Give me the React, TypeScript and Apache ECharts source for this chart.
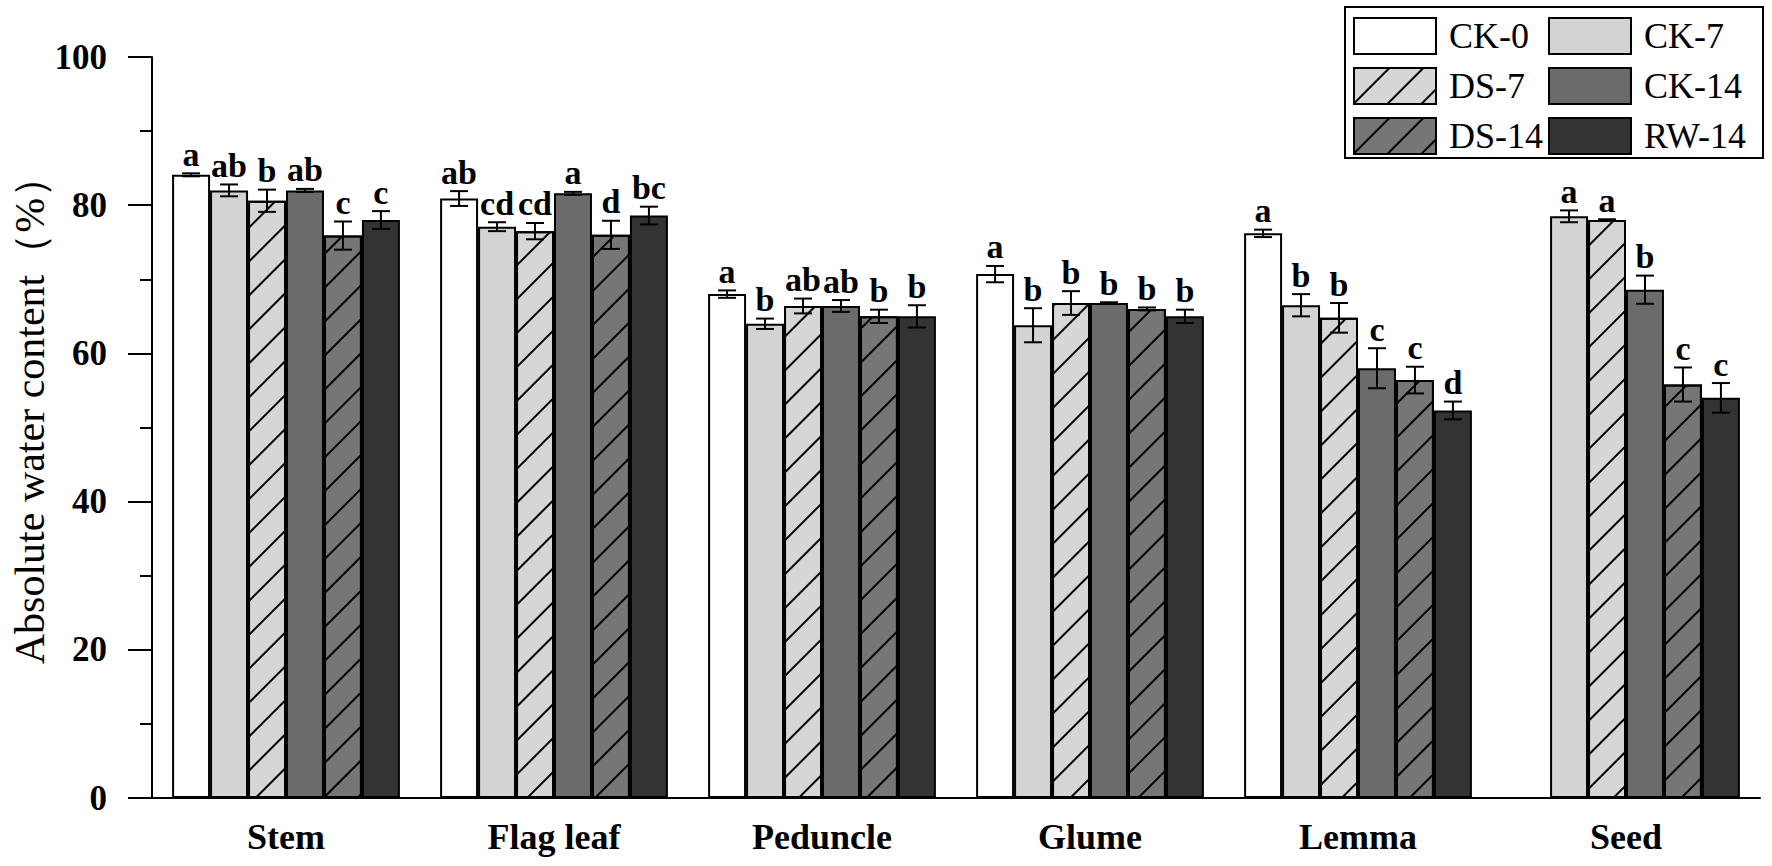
import React, { useEffect, useRef } from "react";
import * as echarts from "echarts";

const categories = ["Stem", "Flag leaf", "Peduncle", "Glume", "Lemma", "Seed"];
const treatments = ["CK-0", "CK-7", "DS-7", "CK-14", "DS-14", "RW-14"];

const ck0 = [84.1, 80.9, 68.0, 70.7, 76.2, null];
const ck0Err = [0.2, 1.0, 0.5, 1.1, 0.5, 0];
const ck7 = [82.0, 77.1, 64.0, 63.8, 66.5, 78.5];
const ck7Err = [0.8, 0.6, 0.7, 2.3, 1.5, 0.8];
const ds7 = [80.6, 76.5, 66.4, 66.8, 64.8, 78.0];
const ds7Err = [1.5, 1.1, 1.0, 1.6, 2.0, 0.1];
const ck14 = [82.0, 81.6, 66.4, 66.8, 58.0, 68.6];
const ck14Err = [0.2, 0.2, 0.8, 0.1, 2.7, 1.9];
const ds14 = [75.9, 76.0, 65.0, 66.0, 56.4, 55.8];
const ds14Err = [1.9, 1.9, 0.9, 0.2, 1.8, 2.3];
const rw14 = [78.0, 78.6, 65.0, 65.0, 52.3, 54.0];
const rw14Err = [1.2, 1.2, 1.5, 0.9, 1.2, 2.0];

const ck0Sig = ["a", "ab", "a", "a", "a", ""];
const ck7Sig = ["ab", "cd", "b", "b", "b", "a"];
const ds7Sig = ["b", "cd", "ab", "b", "b", "a"];
const ck14Sig = ["ab", "a", "ab", "b", "c", "b"];
const ds14Sig = ["c", "d", "b", "b", "c", "c"];
const rw14Sig = ["c", "bc", "b", "b", "d", "c"];

const yTicks = [0, 20, 40, 60, 80, 100];
const yName = "Absolute water content（%）";

const values = [ck0, ck7, ds7, ck14, ds14, rw14];
const errors = [ck0Err, ck7Err, ds7Err, ck14Err, ds14Err, rw14Err];
const sigs = [ck0Sig, ck7Sig, ds7Sig, ck14Sig, ds14Sig, rw14Sig];

const fills = ["#ffffff", "#d3d3d3", "#d6d6d6", "#6b6b6b", "#767676", "#333333"];
const hatched = [false, false, true, false, true, false];

const FONT = "Liberation Serif";
const CAT_GAP = 0.15;

export default function App() {
  const ref = useRef<HTMLDivElement>(null);

  useEffect(() => {
    if (!ref.current) return;
    const chart = echarts.init(ref.current, undefined, { renderer: "svg" });

    const decal = {
      symbol: "rect",
      symbolSize: 1,
      color: "#000",
      dashArrayX: [1, 0],
      dashArrayY: [2, 22],
      rotation: -Math.PI / 4,
    };

    const barSeries = treatments.map((name, i) => ({
      type: "bar",
      name,
      data: values[i].map((v) => (v === null ? "-" : v)),
      barGap: "0%",
      barCategoryGap: `${CAT_GAP * 100}%`,
      itemStyle: {
        color: fills[i],
        borderColor: "#000",
        borderWidth: 2,
        ...(hatched[i] ? { decal } : {}),
      },
      z: 2,
    }));

    const rows: number[][] = [];
    values.forEach((arr, s) => {
      arr.forEach((v, c) => {
        if (v !== null) rows.push([c, v as number, errors[s][c], s]);
      });
    });

    const errSeries = {
      type: "custom",
      name: "errors",
      data: rows,
      encode: { x: 0, y: 1 },
      z: 5,
      silent: true,
      renderItem: (params: any, api: any) => {
        const c = api.value(0);
        const v = api.value(1);
        const e = api.value(2);
        const s = api.value(3);
        const center = api.coord([c, v]);
        const band = api.size([1, 0])[0];
        const bw = (band * (1 - CAT_GAP)) / 6;
        const x = center[0] + (s - 2.5) * bw;
        const yTop = api.coord([c, v + e])[1];
        const yBot = api.coord([c, v - e])[1];
        const cap = 9;
        const ls = { stroke: "#000", lineWidth: 2 };
        return {
          type: "group",
          children: [
            { type: "line", shape: { x1: x, y1: yTop, x2: x, y2: yBot }, style: ls },
            { type: "line", shape: { x1: x - cap, y1: yTop, x2: x + cap, y2: yTop }, style: ls },
            { type: "line", shape: { x1: x - cap, y1: yBot, x2: x + cap, y2: yBot }, style: ls },
            {
              type: "text",
              style: {
                text: sigs[s][c],
                x,
                y: yTop - 2,
                align: "center",
                verticalAlign: "bottom",
                fontSize: 34,
                fontWeight: "bold",
                fontFamily: FONT,
                fill: "#000",
              },
            },
          ],
        };
      },
    };

    const legendBase = {
      orient: "vertical",
      top: 17,
      itemWidth: 82,
      itemHeight: 36,
      itemGap: 12,
      padding: 0,
      icon: "rect",
      selectedMode: false,
      itemStyle: { borderColor: "#000", borderWidth: 2 },
      textStyle: { fontFamily: FONT, fontSize: 36, color: "#000", padding: [0, 0, 0, 8] },
    };

    chart.setOption({
      animation: false,
      backgroundColor: "#ffffff",
      grid: { left: 152, right: 12, top: 57, bottom: 68 },
      legend: [
        { ...legendBase, left: 1353, data: ["CK-0", "DS-7", "DS-14"] },
        { ...legendBase, left: 1548, data: ["CK-7", "CK-14", "RW-14"] },
      ],
      graphic: [
        {
          type: "rect",
          shape: { x: 1345, y: 7, width: 418, height: 151 },
          style: { fill: "none", stroke: "#000", lineWidth: 2 },
          z: 100,
        },
        {
          type: "text",
          x: 30,
          y: 410,
          rotation: Math.PI / 2,
          style: {
            text: yName,
            align: "center",
            verticalAlign: "middle",
            fontFamily: FONT,
            fontSize: 42,
            fontWeight: "normal",
            fill: "#000",
          },
          z: 100,
        },
      ],
      xAxis: {
        type: "category",
        data: categories,
        axisLine: { lineStyle: { color: "#000", width: 2 } },
        axisTick: { show: false },
        axisLabel: {
          color: "#000",
          fontFamily: FONT,
          fontWeight: "bold",
          fontSize: 36,
          margin: 21,
        },
      },
      yAxis: {
        type: "value",
        min: yTicks[0],
        max: yTicks[yTicks.length - 1],
        interval: 20,
        axisLine: { show: true, lineStyle: { color: "#000", width: 2 } },
        axisTick: { show: true, length: 24, lineStyle: { color: "#000", width: 2 } },
        minorTick: { show: true, splitNumber: 2, length: 12, lineStyle: { color: "#000", width: 2 } },
        splitLine: { show: false },
        axisLabel: {
          color: "#000",
          fontFamily: FONT,
          fontWeight: "bold",
          fontSize: 35,
          margin: 45,
        },
      },
      series: [...barSeries, errSeries],
    });

    return () => chart.dispose();
  }, []);

  return (
    <div
      ref={ref}
      style={{ position: "absolute", left: 0, top: 0, width: 1772, height: 866, background: "#fff" }}
    />
  );
}
